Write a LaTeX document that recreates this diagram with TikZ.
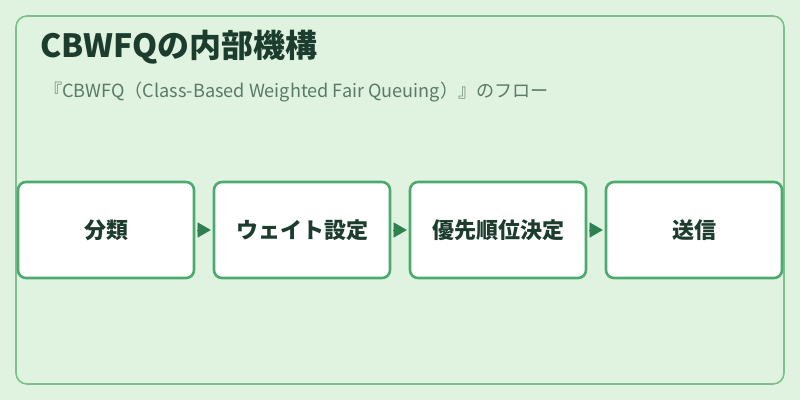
\documentclass[tikz,border=0pt]{standalone}
\usepackage{fontspec}
\setmainfont{Noto Sans CJK JP}
\usetikzlibrary{arrows.meta}
\definecolor{bg}{HTML}{E0F2E0}
\definecolor{frame}{HTML}{7DBF8E}
\definecolor{boxline}{HTML}{4DAA6E}
\definecolor{titlec}{HTML}{1C3C2D}
\definecolor{subc}{HTML}{5A7A68}
\definecolor{arrowc}{HTML}{2E8050}
\tikzset{
  stepbox/.style={draw=boxline, line width=2.6pt, fill=white, rounded corners=8pt,
    minimum width=176pt, minimum height=96pt, inner sep=0pt,
    font=\fontsize{22}{26}\selectfont\bfseries, text=titlec},
  flow/.style={draw=arrowc, line width=0.1pt, shorten <=2pt, shorten >=2pt,
    -{Triangle[length=13pt,width=15pt,fill=arrowc]}}
}
\begin{document}
\begin{tikzpicture}[x=1pt,y=-1pt]
\useasboundingbox (0,0) rectangle (800,400);
\fill[bg] (0,0) rectangle (800,400);
\draw[frame, line width=1.6pt, rounded corners=11pt] (16,16) rectangle (784,384);
\node[anchor=base west, inner sep=0pt, text=titlec, font=\fontsize{32}{36}\selectfont\bfseries] (title) at (40,57) {CBWFQの内部機構};
\node[anchor=base west, inner sep=0pt, text=subc, font=\fontsize{18.1}{21}\selectfont] (sub) at (44,97) {『CBWFQ（Class-Based Weighted Fair Queuing）』のフロー};
\node[stepbox] (a) at (106,230) {分類};
\node[stepbox] (b) at (302,230) {ウェイト設定};
\node[stepbox] (c) at (498,230) {優先順位決定};
\node[stepbox] (d) at (694,230) {送信};
\draw[flow] (a.east) -- (b.west);
\draw[flow] (b.east) -- (c.west);
\draw[flow] (c.east) -- (d.west);
\end{tikzpicture}
\end{document}
